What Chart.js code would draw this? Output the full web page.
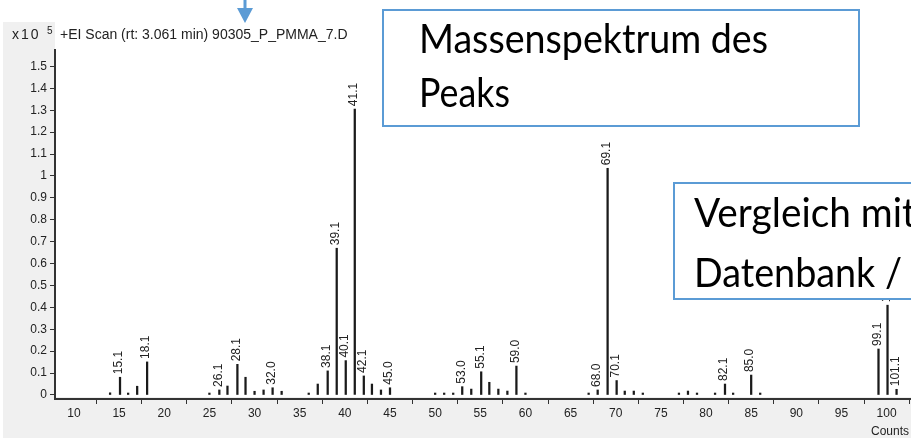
<!DOCTYPE html>
<html>
<head>
<meta charset="utf-8">
<script src="https://cdn.jsdelivr.net/npm/chart.js@4.4.1/dist/chart.umd.min.js"></script>
<style>
  html, body { margin:0; padding:0; width:911px; height:438px; overflow:hidden; background:#fff; }
  #wrap { position:relative; width:911px; height:438px; overflow:hidden; }
  .gray { position:absolute; background:#f0f0f0; z-index:0; }
  canvas { position:absolute; left:0; top:0; z-index:1; }
  .txt { position:absolute; z-index:2; font-family:"Liberation Sans", Arial, sans-serif; color:#222; white-space:nowrap; line-height:16px; }
  svg.ov { position:absolute; left:0; top:0; z-index:3; }
</style>
</head>
<body>
<div id="wrap">
  <div class="gray" style="left:3px; top:22px; width:52px; height:416px;"></div>
  <div class="gray" style="left:3px; top:397px; width:908px; height:41px;"></div>
  <canvas id="c" width="911" height="438"></canvas>
  <div class="txt" style="left:12px; top:26px; font-size:14px; letter-spacing:2px;">x10</div>
  <div class="txt" style="left:47px; top:23px; font-size:10px;">5</div>
  <div class="txt" style="left:60px; top:26px; font-size:14px;">+EI Scan (rt: 3.061 min) 90305_P_PMMA_7.D</div>
  <div class="txt" style="left:871px; top:423px; font-size:12px;">Counts vs. Mass-to-Charge (m/z)</div>
  <svg class="ov" width="911" height="438">
    <rect x="243.5" y="0" width="3" height="9" fill="#5b9bd5"/>
    <polygon points="237,8 253,8 245,23" fill="#5b9bd5"/>
    <rect x="383" y="10" width="476" height="116" fill="#fff" stroke="#5b9bd5" stroke-width="2"/>
    <text x="419" y="53" font-family="Lato, 'Open Sans', sans-serif" font-size="40" fill="#000" textLength="349" lengthAdjust="spacingAndGlyphs">Massenspektrum des</text>
    <text x="419" y="107" font-family="Lato, 'Open Sans', sans-serif" font-size="40" fill="#000" textLength="91" lengthAdjust="spacingAndGlyphs">Peaks</text>
    <rect x="674" y="183" width="260" height="116" fill="#fff" stroke="#5b9bd5" stroke-width="2"/>
    <text x="694" y="227" font-family="Lato, 'Open Sans', sans-serif" font-size="41" fill="#000" textLength="222" lengthAdjust="spacingAndGlyphs">Vergleich mit</text>
    <text x="694" y="287" font-family="Lato, 'Open Sans', sans-serif" font-size="41" fill="#000" textLength="208" lengthAdjust="spacingAndGlyphs">Datenbank /</text>
  </svg>
</div>
<script>
// m/z positions of the peaks
const mz = [14, 15.1, 16, 17, 18.1, 25, 26.1, 27, 28.1, 29, 30, 31, 32.0, 33, 36, 37, 38.1, 39.1, 40.1, 41.1,
            42.1, 43, 44, 45.0, 50, 51, 52, 53.0, 54, 55.1, 56, 57, 58, 59.0, 60, 67, 68.0, 69.1, 70.1, 71,
            72, 73, 77, 78, 79, 81, 82.1, 83, 85.0, 86, 99.1, 100.1, 101.1];
// counts (x10^5)
const counts = [0.010, 0.081, 0.009, 0.040, 0.151, 0.009, 0.023, 0.041, 0.140, 0.081, 0.017, 0.023, 0.033, 0.017, 0.009, 0.050, 0.110, 0.670, 0.157, 1.305,
                0.087, 0.050, 0.023, 0.033, 0.009, 0.009, 0.009, 0.038, 0.027, 0.106, 0.058, 0.027, 0.018, 0.132, 0.009, 0.009, 0.023, 1.035, 0.066, 0.018,
                0.018, 0.009, 0.009, 0.018, 0.009, 0.009, 0.050, 0.009, 0.091, 0.009, 0.210, 0.410, 0.026];
// peak annotations
const peakLabels = ['', '15.1', '', '', '18.1', '', '26.1', '', '28.1', '', '', '', '32.0', '', '', '', '38.1', '39.1', '40.1', '41.1',
                    '42.1', '', '', '45.0', '', '', '', '53.0', '', '55.1', '', '', '', '59.0', '', '', '68.0', '69.1', '70.1', '',
                    '', '', '', '', '', '', '82.1', '', '85.0', '', '99.1', '100.1', '101.1'];
// axis ticks
const xTicks = [10, 15, 20, 25, 30, 35, 40, 45, 50, 55, 60, 65, 70, 75, 80, 85, 90, 95, 100];
const yTicks = [0, 0.1, 0.2, 0.3, 0.4, 0.5, 0.6, 0.7, 0.8, 0.9, 1, 1.1, 1.2, 1.3, 1.4, 1.5];
const yTickLabels = ['0', '0.1', '0.2', '0.3', '0.4', '0.5', '0.6', '0.7', '0.8', '0.9', '1', '1.1', '1.2', '1.3', '1.4', '1.5'];

const tickFont = { family: "'Liberation Sans', Arial, sans-serif", size: 12 };

const peakLabelPlugin = {
  id: 'peakLabels',
  afterDatasetsDraw(chart) {
    const meta = chart.getDatasetMeta(0);
    const ctx = chart.ctx;
    ctx.save();
    ctx.font = "12px 'Liberation Sans', Arial, sans-serif";
    ctx.fillStyle = '#222';
    ctx.textAlign = 'left';
    ctx.textBaseline = 'middle';
    meta.data.forEach((bar, i) => {
      const lab = peakLabels[i];
      if (!lab) return;
      ctx.save();
      ctx.translate(bar.x - 1, bar.y - 3);
      ctx.rotate(-Math.PI / 2);
      ctx.fillText(lab, 0, 0);
      ctx.restore();
    });
    ctx.restore();
  }
};

new Chart(document.getElementById('c'), {
  type: 'bar',
  data: {
    datasets: [{
      data: mz.map((m, i) => ({ x: m, y: counts[i] })),
      backgroundColor: '#1a1a1a',
      borderWidth: 0,
      barThickness: 1.6
    }]
  },
  options: {
    responsive: false,
    animation: false,
    devicePixelRatio: 1,
    layout: { padding: { top: 50, left: 0, right: 0, bottom: 0 } },
    plugins: { legend: { display: false }, tooltip: { enabled: false } },
    scales: {
      x: {
        type: 'linear',
        min: 7.9,
        max: 102.7,
        offset: false,
        afterBuildTicks: (s) => { s.ticks = xTicks.map(v => ({ value: v })); },
        afterFit: (s) => { s.height = 39; },
        grid: { drawOnChartArea: false, drawTicks: true, tickLength: 5, color: '#333', lineWidth: 1 },
        border: { display: true, color: '#333', width: 2 },
        ticks: { font: tickFont, color: '#222', padding: 2, maxRotation: 0, autoSkip: false }
      },
      y: {
        min: -0.0183,
        max: 1.575,
        afterBuildTicks: (s) => { s.ticks = yTicks.map(v => ({ value: v })); },
        afterFit: (s) => { s.width = 55; },
        grid: { drawOnChartArea: false, drawTicks: true, tickLength: 5, color: '#333', lineWidth: 1 },
        border: { display: true, color: '#333', width: 2 },
        ticks: {
          font: tickFont, color: '#222', padding: 3, autoSkip: false,
          callback: (v) => { const k = yTicks.findIndex(t => Math.abs(t - v) < 1e-6); return k >= 0 ? yTickLabels[k] : ''; }
        }
      }
    }
  },
  plugins: [peakLabelPlugin]
});
</script>
</body>
</html>
